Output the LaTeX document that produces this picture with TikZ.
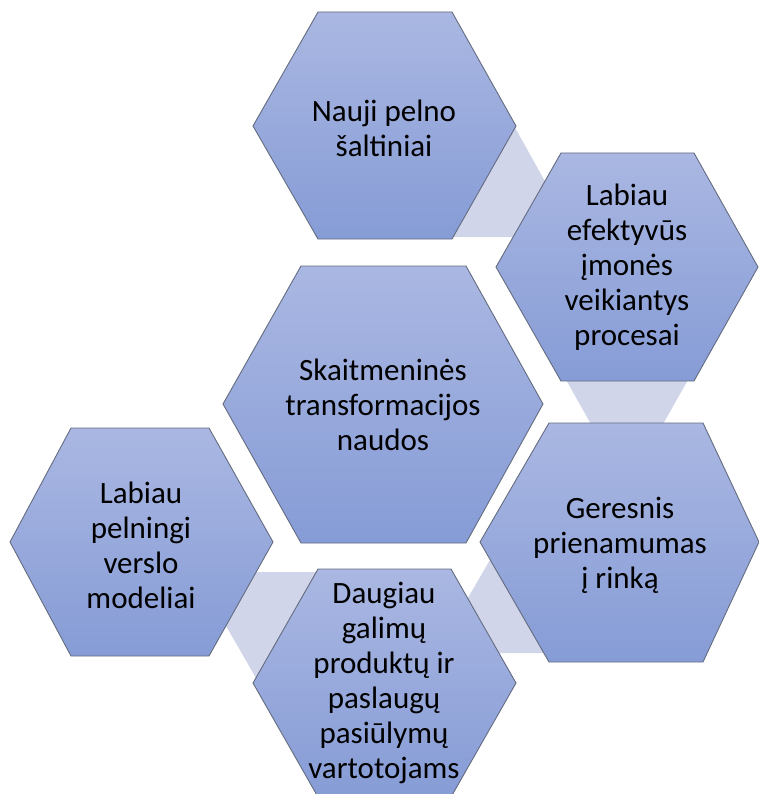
\documentclass[tikz,border=0pt]{standalone}
\usepackage{fontspec}
\setmainfont{Carlito}
\begin{document}
\begin{tikzpicture}[x=1pt,y=-1pt,
  hexcell/.style={draw=hexline, line width=0.9pt, line join=miter,
    top color=hextop, bottom color=hexbottom},
  linkband/.style={fill=bandfill, draw=none},
  celltext/.style={align=center, text=black,
    font=\fontsize{31}{35}\selectfont, inner sep=0pt}]
\definecolor{hextop}{RGB}{170,183,226}
\definecolor{hexbottom}{RGB}{134,156,214}
\definecolor{hexline}{RGB}{100,108,128}
\definecolor{bandfill}{RGB}{208,213,234}

\useasboundingbox (0,0) rectangle (759,794);
\clip (0,0) rectangle (759,794);

% light bands linking neighbouring cells (drawn first, behind the cells)
\path[linkband] (513,124) -- (576,237) -- (450,237) -- cycle;
\path[linkband] (565,378) -- (689,378) -- (627,488) -- cycle;
\path[linkband] (498,546) -- (562,653) -- (436,653) -- cycle;
\path[linkband] (195,572) -- (325,572) -- (260,685) -- cycle;

% hexagonal cells
\path[hexcell] (253,126) -- (318,12) -- (452,12) -- (516,126) -- (452,239) -- (318,239) -- cycle;
\path[hexcell] (496,267) -- (561,153) -- (694,153) -- (758,267) -- (694,381) -- (561,381) -- cycle;
\path[hexcell] (223,404) -- (301,266) -- (466,266) -- (543,404) -- (466,543) -- (301,543) -- cycle;
\path[hexcell] (480,542) -- (549,423) -- (703,423) -- (759,542) -- (703,662) -- (549,662) -- cycle;
\path[hexcell] (10,542) -- (71,428) -- (209,428) -- (273,542) -- (209,656) -- (71,656) -- cycle;
\path[hexcell] (253,683) -- (318,569) -- (451,569) -- (516,683) -- (451,797) -- (318,797) -- cycle;

% cell labels
\node[celltext] (pelnas)   at (384,128) {Nauji pelno\\šaltiniai};
\node[celltext] (procesai) at (627,267) {Labiau\\efektyvūs\\įmonės\\veikiantys\\procesai};
\node[celltext] (naudos)   at (383,405) {Skaitmeninės\\transformacijos\\naudos};
\node[celltext] (rinka)    at (620,545) {Geresnis\\prienamumas\\į rinką};
\node[celltext] (modeliai) at (141,545) {Labiau\\pelningi\\verslo\\modeliai};
\node[celltext] (produktai) at (384,683) {Daugiau\\galimų\\produktų ir\\paslaugų\\pasiūlymų\\vartotojams};
\end{tikzpicture}
\end{document}
